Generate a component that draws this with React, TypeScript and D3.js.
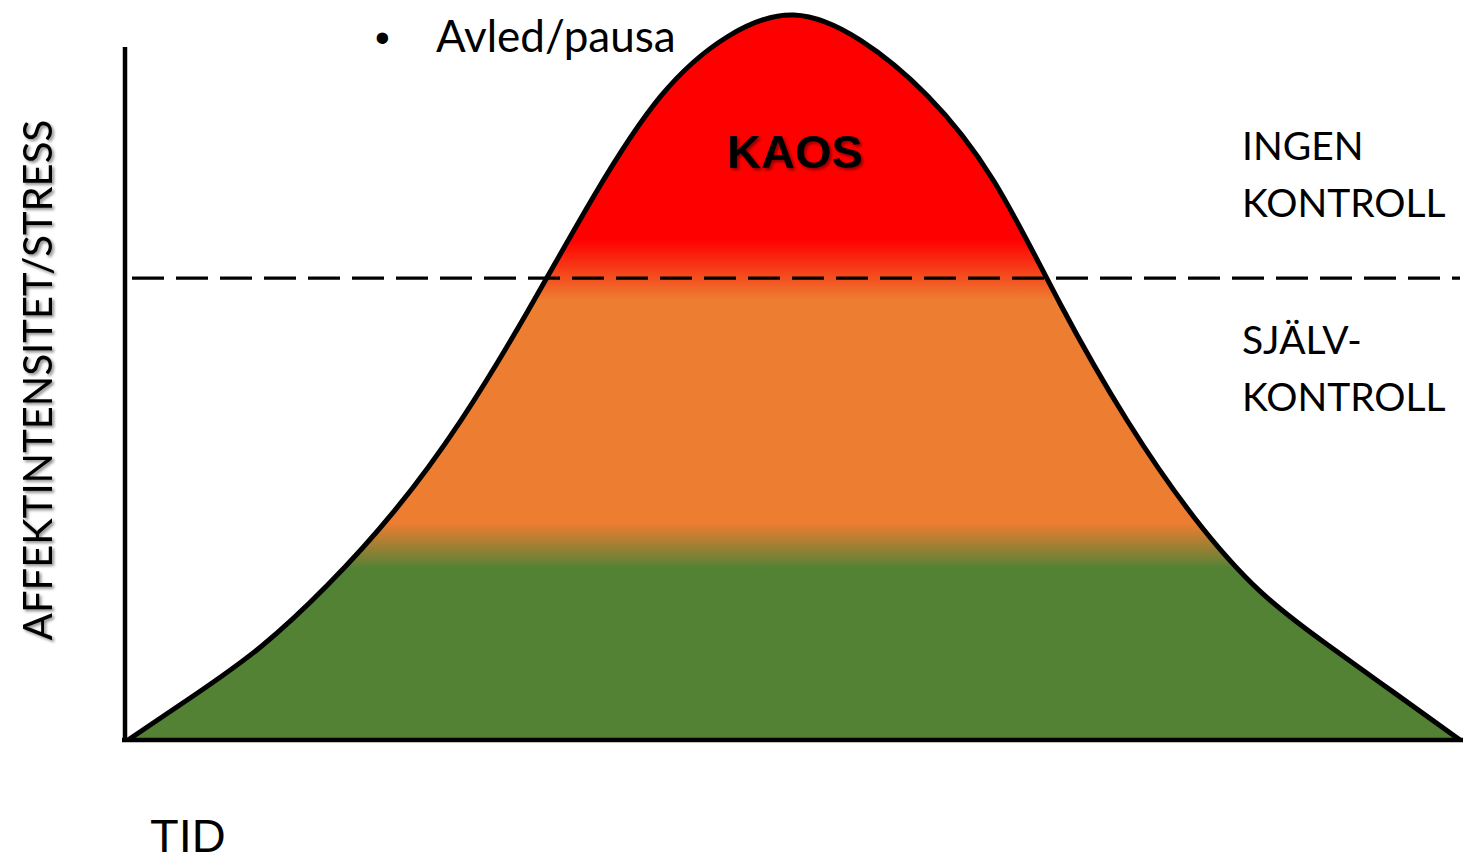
import React from "react";
import * as d3 from "d3";

// Time (0–100) and affect intensity (0–100)
const time = [0, 5, 10, 15, 20, 25, 30, 35, 40, 45, 50, 55, 60, 65, 70, 75, 80, 85, 90, 95, 100];
const intensity = [0, 6.2, 12.9, 21.4, 31.6, 44.1, 59.1, 75.1, 88.8, 97.0, 100, 96.5, 88.9, 77.1, 60.1, 44.1, 30.8, 20.5, 13.2, 6.6, 0];

// Zone threshold (self-control / no control) and gradient bands
const threshold = 63.7;
const bandValues = [100, 69.0, 60.7, 29.9, 23.7, 0];
const bandColors = ["#FF0000", "#FF0000", "#ED7D31", "#ED7D31", "#548235", "#548235"];
const axisTopValue = 95.6;

const yLabel = "AFFEKTINTENSITET/STRESS";
const xLabel = "TID";
const bulletText = "Avled/pausa";
const peakLabel = "KAOS";
const upperZone = ["INGEN", "KONTROLL"];
const lowerZone = ["SJÄLV-", "KONTROLL"];

export default function App() {
  const W = 1473, H = 865;
  const x = d3.scaleLinear().domain([0, 100]).range([128, 1460]);
  const y = d3.scaleLinear().domain([0, 100]).range([740, 15]);
  const pts = time.map((t, i) => [t, intensity[i]] as [number, number]);
  const curve = d3.curveNatural;
  const area = d3.area<[number, number]>()
    .x(d => x(d[0])).y0(y(0)).y1(d => y(d[1])).curve(curve);
  const line = d3.line<[number, number]>()
    .x(d => x(d[0])).y(d => y(d[1])).curve(curve);
  const yTop = y(100), yBot = y(0);
  const calibri = "Lato, 'Open Sans', sans-serif";
  const arial = "'Liberation Sans', Arial, sans-serif";

  return (
    <svg width={W} height={H} style={{ position: "absolute", left: 0, top: 0, background: "#fff" }}>
      <defs>
        <linearGradient id="zones" gradientUnits="userSpaceOnUse" x1={0} x2={0} y1={yTop} y2={yBot}>
          {bandValues.map((v, i) => (
            <stop key={i} offset={(y(v) - yTop) / (yBot - yTop)} stopColor={bandColors[i]} />
          ))}
        </linearGradient>
        <filter id="shadow" x="-10%" y="-10%" width="130%" height="130%">
          <feDropShadow dx={2} dy={2} stdDeviation={1.5} floodColor="#000" floodOpacity={0.45} />
        </filter>
      </defs>

      <path d={area(pts) || ""} fill="url(#zones)" />
      <path d={line(pts) || ""} fill="none" stroke="#000" strokeWidth={5} strokeLinejoin="round" />

      {/* threshold */}
      <line x1={x(0)} x2={x(100)} y1={y(threshold)} y2={y(threshold)}
        stroke="#000" strokeWidth={3.2} strokeDasharray="32 12" strokeDashoffset={-4} />

      {/* axes */}
      <line x1={x(0) - 3} x2={x(0) - 3} y1={y(axisTopValue)} y2={y(0) + 2} stroke="#000" strokeWidth={4.5} />
      <line x1={x(0) - 6} x2={x(100) + 3} y1={y(0)} y2={y(0)} stroke="#000" strokeWidth={4.5} />

      {/* y label */}
      <g filter="url(#shadow)">
        <text transform={`translate(52,380) rotate(-90)`} textAnchor="middle"
          fontFamily={calibri} fontSize={40} fill="#000">{yLabel}</text>
      </g>

      <text x={150} y={852} fontFamily={arial} fontSize={47} fill="#000">{xLabel}</text>

      <text x={375} y={52} fontFamily={arial} fontSize={42} fill="#000">•</text>
      <text x={436} y={52} fontFamily={calibri} fontSize={44} fill="#000">{bulletText}</text>

      <g filter="url(#shadow)">
        <text x={795} y={168} textAnchor="middle" fontFamily={arial} fontWeight="bold" fontSize={47} fill="#000">{peakLabel}</text>
      </g>

      {upperZone.map((s, i) => (
        <text key={"u" + i} x={1242} y={160 + i * 57} fontFamily={calibri} fontSize={39} fill="#000">{s}</text>
      ))}
      {lowerZone.map((s, i) => (
        <text key={"l" + i} x={1242} y={354 + i * 57} fontFamily={calibri} fontSize={39} fill="#000">{s}</text>
      ))}
    </svg>
  );
}
